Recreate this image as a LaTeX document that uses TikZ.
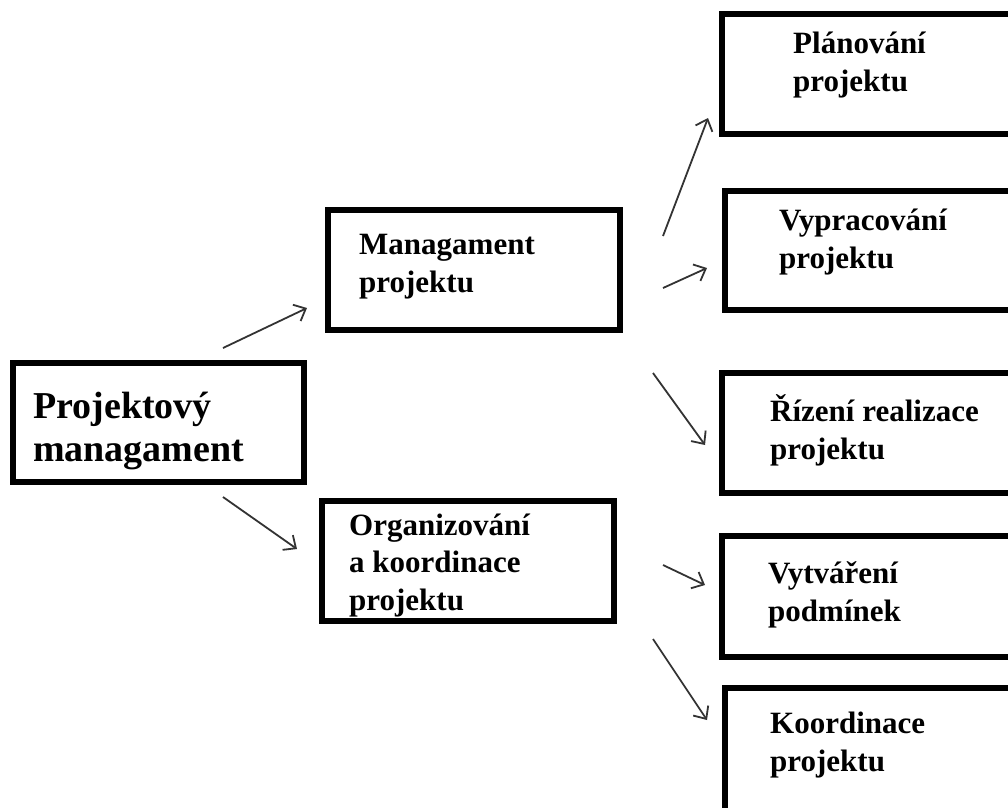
\documentclass[tikz,border=0pt]{standalone}
\usepackage{fontspec}
\setmainfont{Liberation Serif}
\usetikzlibrary{arrows.meta}

\newlength{\du}
\setlength{\du}{1pt}

\tikzset{
  ramec/.style={draw=black, line width=6\du, rectangle, inner sep=0pt},
  popis/.style={anchor=base west, inner sep=0pt, align=left,
    font=\fontsize{31\du}{37.5\du}\selectfont\bfseries},
  popisvelky/.style={popis, font=\fontsize{38\du}{43\du}\selectfont\bfseries},
  sipka/.style={draw=black!80, line width=1.8\du,
    -{Straight Barb[length=10pt, width=18pt]}}
}

\begin{document}
\begin{tikzpicture}
\pgftransformxscale{1.000000}
\pgftransformyscale{-1.000000}
\useasboundingbox (0\du,0\du) rectangle (1008\du,807\du);
\clip (0\du,0\du) rectangle (1008\du,807\du);
% ramecky
\node[ramec, minimum width=291\du, minimum height=119\du] (pm) at (158.5\du,422.5\du) {};
\node[ramec, minimum width=292\du, minimum height=120\du] (mp) at (474\du,270\du) {};
\node[ramec, minimum width=292\du, minimum height=120\du] (ok) at (468\du,561\du) {};
\node[ramec, minimum width=305\du, minimum height=120\du] (pl) at (874.5\du,74\du) {};
\node[ramec, minimum width=302\du, minimum height=119\du] (vy) at (876\du,250.5\du) {};
\node[ramec, minimum width=305\du, minimum height=120\du] (ri) at (874.5\du,433\du) {};
\node[ramec, minimum width=305\du, minimum height=121\du] (vt) at (874.5\du,596.5\du) {};
\node[ramec, minimum width=302\du, minimum height=159\du] (ko) at (876\du,767.5\du) {};
% texty (base = posledni radek)
\node[popisvelky] (pmtext) at (33\du,461\du) {Projektový\\managament};
\node[popis] (mptext) at (359\du,292\du) {Managament\\projektu};
\node[popis] (oktext) at (349\du,610\du) {Organizování\\a koordinace\\projektu};
\node[popis] (pltext) at (793\du,91\du) {Plánování\\projektu};
\node[popis] (vytext) at (779\du,268\du) {Vypracování\\projektu};
\node[popis] (ritext) at (770\du,459\du) {Řízení realizace\\projektu};
\node[popis] (vttext) at (768\du,621\du) {Vytváření\\podmínek};
\node[popis] (kotext) at (770\du,771\du) {Koordinace\\projektu};
% konce sipek
\coordinate (s1a) at (223\du,348\du);
\coordinate (s1b) at (307\du,308\du);
\coordinate (s2a) at (223\du,497\du);
\coordinate (s2b) at (297\du,549\du);
\coordinate (s3a) at (663\du,236\du);
\coordinate (s3b) at (708\du,118\du);
\coordinate (s4a) at (663\du,288\du);
\coordinate (s4b) at (707\du,268\du);
\coordinate (s5a) at (653\du,373\du);
\coordinate (s5b) at (705\du,445\du);
\coordinate (s6a) at (663\du,565\du);
\coordinate (s6b) at (705\du,585\du);
\coordinate (s7a) at (653\du,639\du);
\coordinate (s7b) at (707\du,720\du);
\draw[sipka] (s1a) -- (s1b);
\draw[sipka] (s2a) -- (s2b);
\draw[sipka] (s3a) -- (s3b);
\draw[sipka] (s4a) -- (s4b);
\draw[sipka] (s5a) -- (s5b);
\draw[sipka] (s6a) -- (s6b);
\draw[sipka] (s7a) -- (s7b);
\end{tikzpicture}
\end{document}
